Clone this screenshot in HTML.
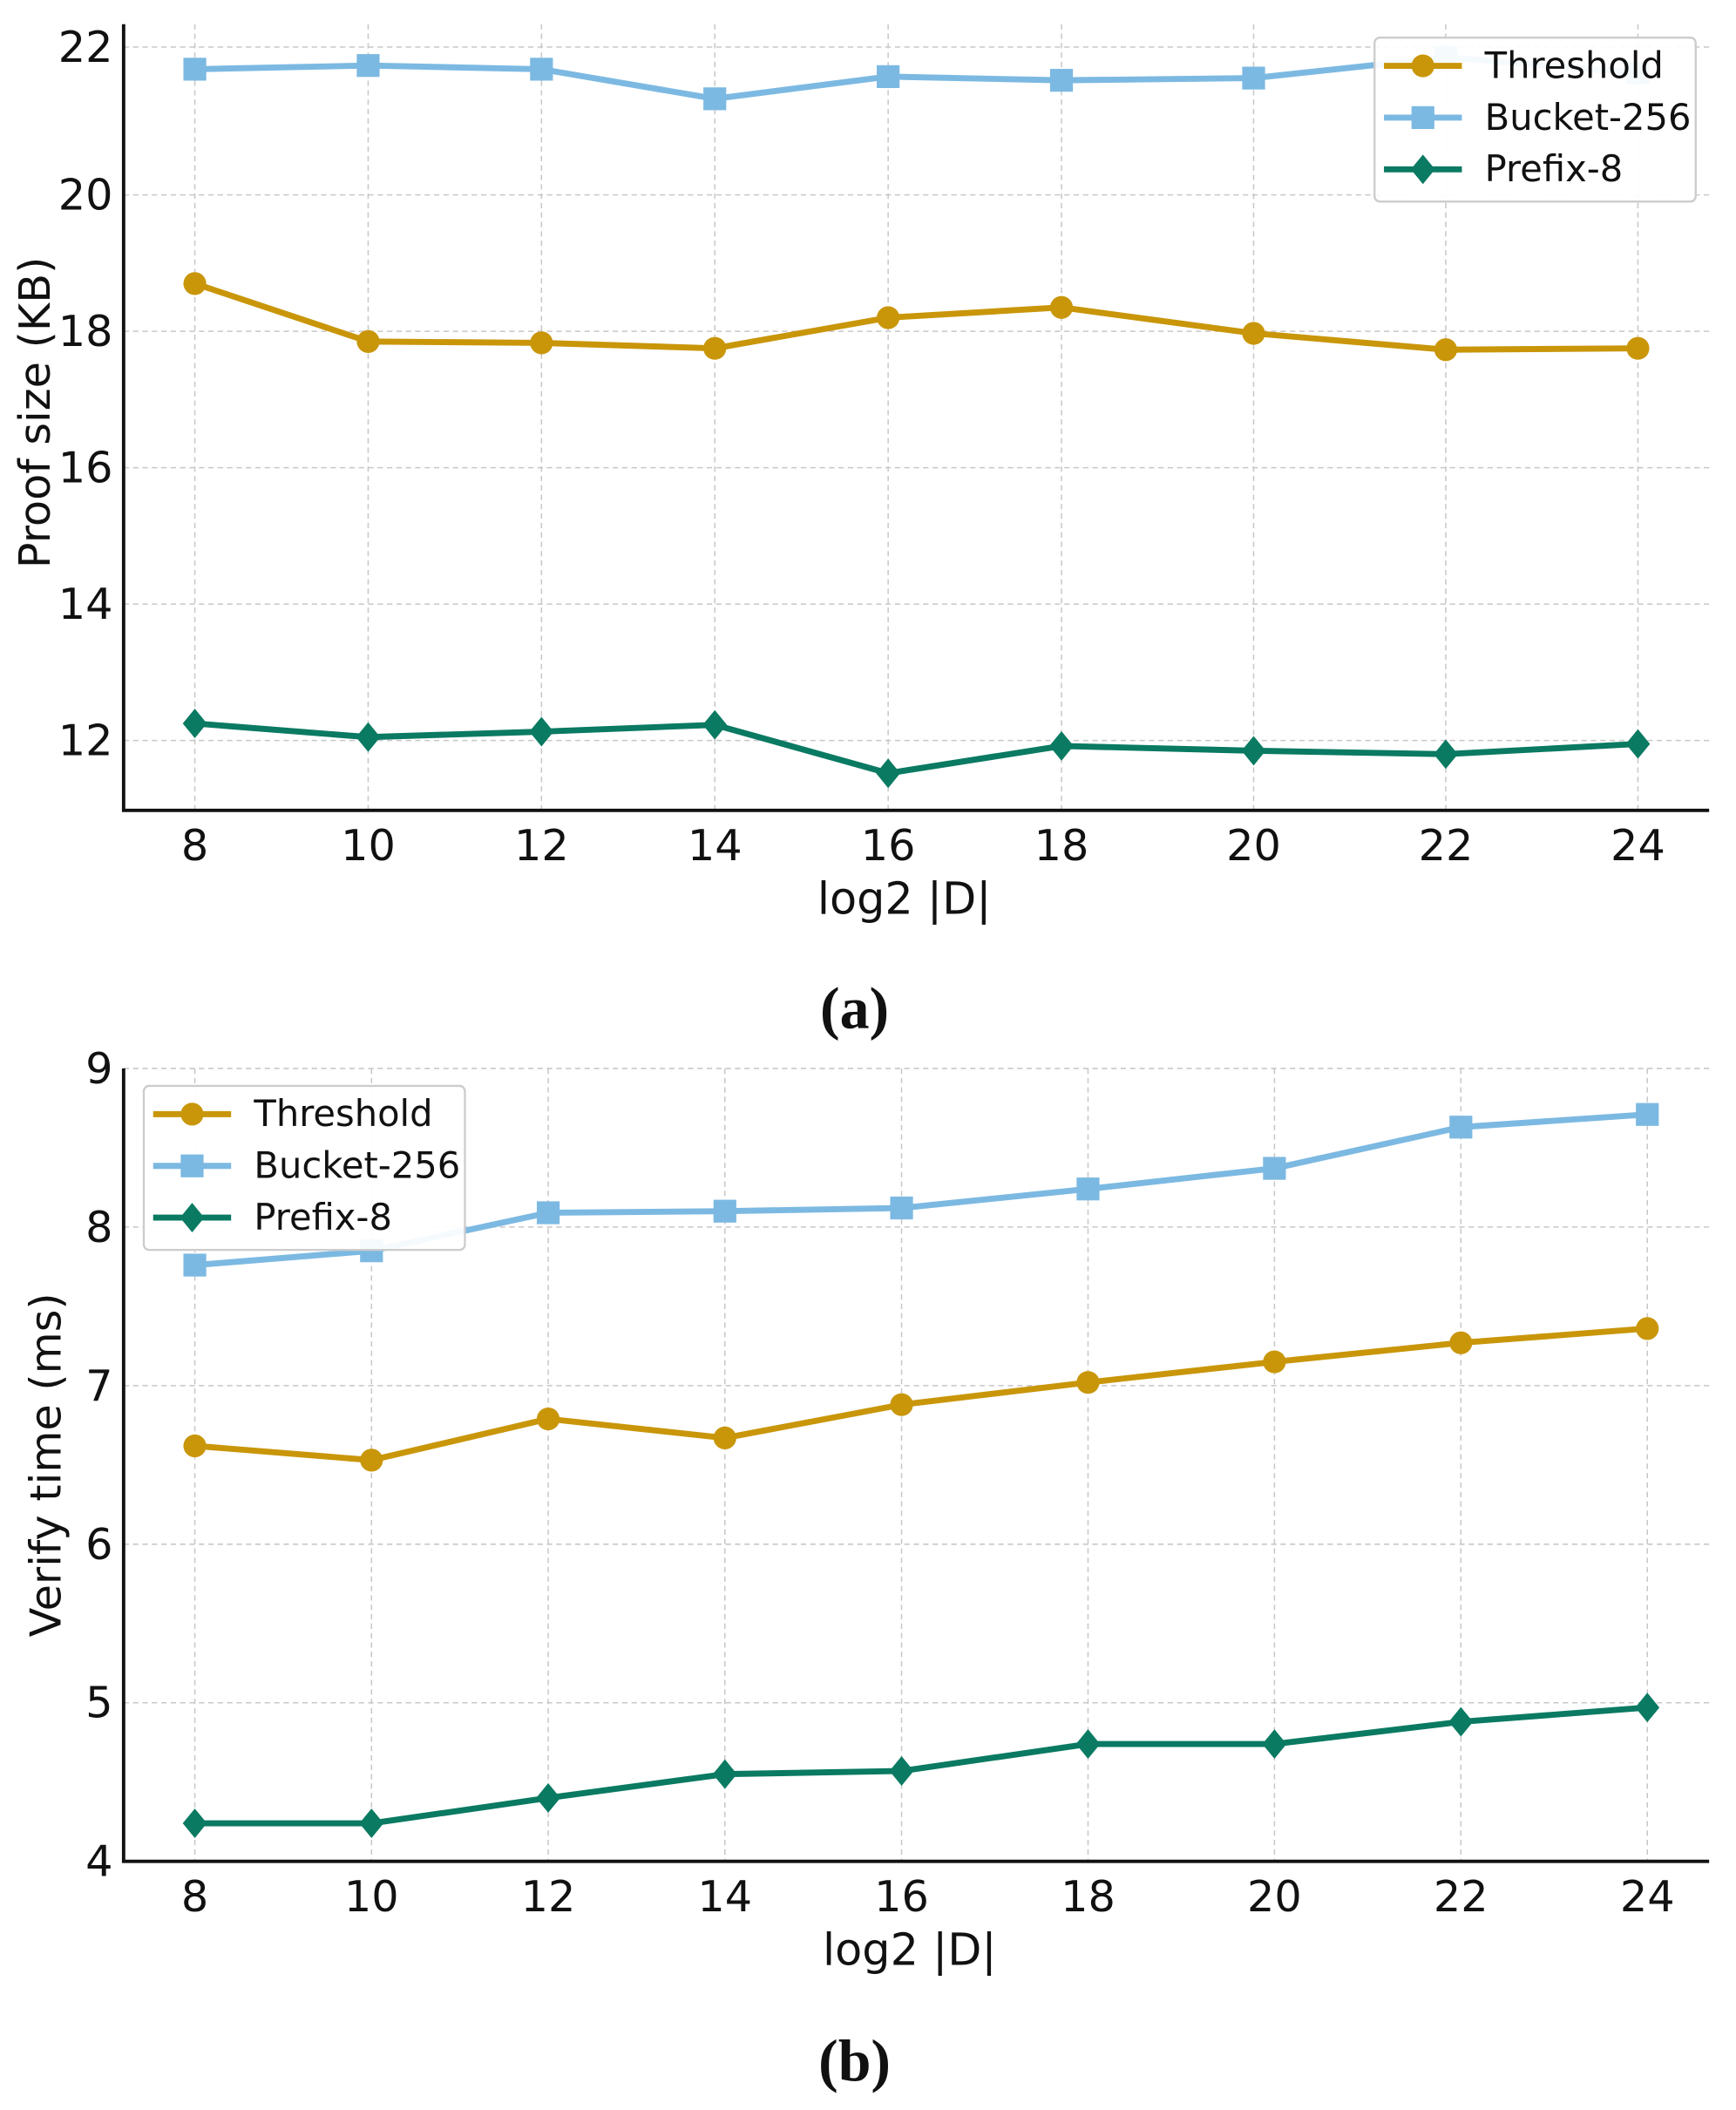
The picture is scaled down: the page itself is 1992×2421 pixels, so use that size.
<!DOCTYPE html>
<html><head><meta charset="utf-8"><style>
html,body{margin:0;padding:0;background:#fff;}
svg{display:block;}
text{font-family:"DejaVu Sans","Liberation Sans",sans-serif;fill:#111;}
</style></head><body>
<svg id="fig" width="1992" height="2421" viewBox="0 0 1292 1570" preserveAspectRatio="none" xmlns="http://www.w3.org/2000/svg"></svg>
<script>
const xCats = [8,10,12,14,16,18,20,22,24];
const seriesNames = ["Threshold","Bucket-256","Prefix-8"];
const proofThreshold = [18.7,17.85,17.83,17.75,18.2,18.35,17.97,17.73,17.75];
const proofBucket = [21.7,21.75,21.7,21.3,21.6,21.55,21.58,21.86,21.65];
const proofPrefix = [12.25,12.05,12.13,12.23,11.52,11.92,11.85,11.8,11.95];
const verifyThreshold = [6.62,6.53,6.79,6.67,6.88,7.02,7.15,7.27,7.36];
const verifyBucket = [7.76,7.85,8.09,8.1,8.12,8.24,8.37,8.63,8.71];
const verifyPrefix = [4.24,4.24,4.4,4.55,4.57,4.74,4.74,4.88,4.97];
const proofTicks = [12,14,16,18,20,22];
const verifyTicks = [4,5,6,7,8,9];

const NS="http://www.w3.org/2000/svg";
const svg=document.getElementById('fig');
function mk(tag,attrs,parent){const e=document.createElementNS(NS,tag);for(const k in attrs)e.setAttribute(k,attrs[k]);(parent||svg).appendChild(e);return e;}
const colors=["#c9960a","#7cb9e2","#0a7a62"];
const markers=["circle","square","diamond"];

function drawMarker(g,type,x,y,c){
  let m;
  if(type==="circle") m=mk('circle',{cx:x,cy:y,r:8.5,fill:c},g);
  else if(type==="square") m=mk('rect',{x:x-8.5,y:y-8.5,width:17,height:17,fill:c},g);
  else m=mk('polygon',{points:`${x},${y-11} ${x+9},${y} ${x},${y+11} ${x-9},${y}`,fill:c},g);
  
  
}
function pw(a,v){for(let i=0;i<a.length-1;i++){if(v<=a[i+1][0]||i===a.length-2){return a[i][1]+(v-a[i][0])*(a[i+1][1]-a[i][1])/(a[i+1][0]-a[i][0]);}}}

function chart(opt){
  const g=mk('g',{});
  
  
  const xs=v=>pw(opt.xa,v);
  const ys=v=>pw(opt.ya,v);
  xCats.forEach(c=>{const l=mk('line',{x1:xs(c),x2:xs(c),y1:opt.top,y2:opt.bottom,stroke:"#c8c8c8","stroke-width":1,"stroke-dasharray":"4,3"},g);
    });
  opt.ticks.forEach(t=>{const l=mk('line',{x1:opt.left,x2:opt.right,y1:ys(t),y2:ys(t),stroke:"#c8c8c8","stroke-width":1,"stroke-dasharray":"4,3"},g);
    });
  const ax=mk('path',{d:`M${opt.left},${opt.top} V${opt.bottom} H${opt.right}`,stroke:"#111","stroke-width":2.5,fill:"none"},g);
  
  xCats.forEach(c=>{const t=mk('text',{x:xs(c),y:opt.bottom+37,"font-size":32,"text-anchor":"middle"},g);t.textContent=c;
    });
  opt.ticks.forEach(v=>{const t=mk('text',{x:opt.left-8,y:ys(v)+11,"font-size":32,"text-anchor":"end"},g);t.textContent=v;
    });
  const xl=mk('text',{x:opt.xlx,y:opt.bottom+77,"font-size":33,"text-anchor":"middle"},g);xl.textContent="log2 |D|";
  
  const yl=mk('text',{x:0,y:0,"font-size":32,"text-anchor":"middle",transform:`translate(${opt.ylx},${opt.yly}) rotate(-90)`},g);yl.textContent=opt.ytitle;
  
  opt.series.forEach((s,i)=>{
    const pts=s.map((v,j)=>[xs(xCats[j]),ys(v)]);
    const pl=mk('polyline',{points:pts.map(p=>p.join(',')).join(' '),fill:"none",stroke:colors[i],"stroke-width":4.5,"stroke-linejoin":"round"},g);
    
    
    pts.forEach(p=>drawMarker(g,markers[i],p[0],p[1],colors[i]));
  });
  const L=opt.legend;
  const lg=mk('g',{},g);
  
  
  mk('rect',{x:L.x,y:L.y,width:239,height:122,rx:4,fill:"rgba(255,255,255,0.92)",stroke:"#ccc","stroke-width":1.5},lg);
  seriesNames.forEach((n,i)=>{
    const yy=L.y+21+i*38.5;
    const en=mk('g',{},lg);
    
    
    mk('line',{x1:L.x+7,x2:L.x+65,y1:yy,y2:yy,stroke:colors[i],"stroke-width":4.5},en);
    drawMarker(en,markers[i],L.x+36,yy,colors[i]);
    const t=mk('text',{x:L.x+82,y:yy+9,"font-size":27},en);t.textContent=n;
  });
}

chart({name:"proof-size-chart",left:92,right:1272,top:18,bottom:603,
  xa:[[8,145],[18,790],[24,1219]],ya:[[12,551],[20,145],[22,35]],ticks:proofTicks,
  series:[proofThreshold,proofBucket,proofPrefix],ytitle:"Proof size (KB)",ylx:37,yly:307,xlx:673,
  legend:{x:1023,y:28}});
chart({name:"verify-time-chart",left:92,right:1272,top:795,bottom:1385,
  xa:[[8,145],[16,671],[24,1226]],ya:[[4,1385],[9,795]],ticks:verifyTicks,
  series:[verifyThreshold,verifyBucket,verifyPrefix],ytitle:"Verify time (ms)",ylx:45,yly:1090,xlx:677,
  legend:{x:107,y:808}});

[["(a)",765,"caption-a"],["(b)",1548,"caption-b"]].forEach(c=>{
  const t=mk('text',{x:636,y:c[1],"font-size":44,"text-anchor":"middle","font-weight":"bold",style:"font-family:'Liberation Serif',serif"});
  t.textContent=c[0];
  
  
});
</script>
</body></html>
